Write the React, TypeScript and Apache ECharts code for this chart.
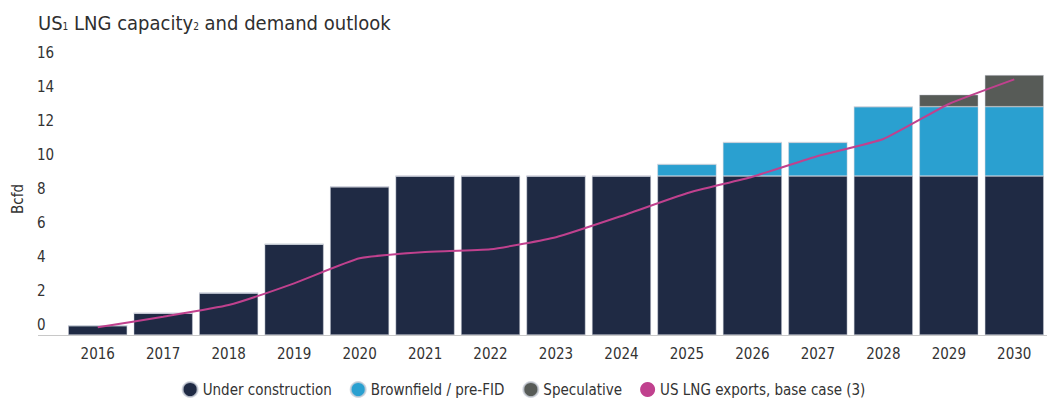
import React, { useEffect, useRef } from "react";
import * as echarts from "echarts";

const years = ["2016","2017","2018","2019","2020","2021","2022","2023","2024","2025","2026","2027","2028","2029","2030"];
const underConstruction = [0.55, 1.28, 2.47, 5.34, 8.72, 9.35, 9.35, 9.35, 9.35, 9.35, 9.35, 9.35, 9.35, 9.35, 9.35];
const brownfield = [0, 0, 0, 0, 0, 0, 0, 0, 0, 0.69, 1.98, 1.98, 4.08, 4.08, 4.08];
const speculative = [0, 0, 0, 0, 0, 0, 0, 0, 0, 0, 0, 0, 0, 0.71, 1.86];
const exportsBase = [0.45, 1.08, 1.76, 3.04, 4.51, 4.88, 5.04, 5.75, 7.0, 8.34, 9.31, 10.53, 11.53, 13.59, 15.04];
const yTicks = [0, 2, 4, 6, 8, 10, 12, 14, 16];

const FONT = "'Liberation Sans Narrow', 'DejaVu Sans Condensed', 'Noto Sans', sans-serif";

export default function App() {
  const ref = useRef<HTMLDivElement>(null);
  useEffect(() => {
    if (!ref.current) return;
    const chart = echarts.init(ref.current, undefined, { renderer: "svg" });
    const barCommon = {
      type: "bar" as const,
      stack: "cap",
      barWidth: 59,
      itemStyle: { borderColor: "rgba(200,205,215,0.8)", borderWidth: 0.6 },
    };
    chart.setOption({
      animation: false,
      textStyle: { fontFamily: FONT },
      title: {
        left: 33,
        top: 4,
        text: "{a|US}{s|1}{a| LNG capacity}{s|2}{a| and demand outlook}",
        textStyle: {
          fontWeight: "normal",
          rich: {
            a: { fontSize: 20, color: "#2f2f2f", fontFamily: FONT, fontWeight: "normal", lineHeight: 28 },
            s: { fontSize: 10, color: "#2f2f2f", fontFamily: FONT, fontWeight: "normal", verticalAlign: "bottom", lineHeight: 22, padding: [0, 0, 6, 0] },
          },
        },
      },
      grid: { left: 65, right: -8, top: 63, bottom: 72 },
      legend: {
        bottom: 4,
        left: "center",
        icon: "circle",
        itemWidth: 15,
        itemHeight: 15,
        itemGap: 18,
        textStyle: { fontSize: 15, color: "#333", fontFamily: FONT },
        data: ["Under construction", "Brownfield / pre-FID", "Speculative", "US LNG exports, base case (3)"],
      },
      xAxis: {
        type: "category",
        data: years,
        axisLine: { show: false },
        axisTick: { show: false },
        axisLabel: { fontSize: 15, color: "#333", margin: 11, fontFamily: FONT },
      },
      yAxis: {
        type: "value",
        min: 0,
        max: 16,
        interval: 2,
        name: "Bcfd",
        nameLocation: "middle",
        nameRotate: 90,
        nameGap: 40,
        nameTextStyle: { fontSize: 15, color: "#333", fontFamily: FONT },
        splitLine: { show: false },
        axisLine: { show: false },
        axisTick: { show: false },
        axisLabel: {
          align: "left",
          margin: 28,
          fontSize: 15,
          color: "#333",
          verticalAlign: "bottom",
          lineHeight: 20,
          fontFamily: FONT,
          formatter: (v: number) => (yTicks.includes(v) ? String(v) : ""),
        },
      },
      graphic: [
        {
          type: "line",
          shape: { x1: 38, y1: 335.5, x2: 1047, y2: 335.5 },
          style: { stroke: "#c8c8c8", lineWidth: 1 },
          z: 10,
        },
      ],
      series: [
        { ...barCommon, name: "Under construction", data: underConstruction, color: "#1f2a44" },
        { ...barCommon, name: "Brownfield / pre-FID", data: brownfield, color: "#2aa0d0" },
        { ...barCommon, name: "Speculative", data: speculative, color: "#575b57" },
        {
          type: "line",
          name: "US LNG exports, base case (3)",
          data: exportsBase,
          color: "#c0418e",
          symbol: "none",
          smooth: 0.15,
          lineStyle: { width: 2, color: "#c0418e" },
          z: 5,
        },
      ],
    });
    return () => chart.dispose();
  }, []);
  return (
    <div
      ref={ref}
      style={{ position: "fixed", left: 0, top: 0, width: 1047, height: 407, background: "#fff" }}
    />
  );
}
